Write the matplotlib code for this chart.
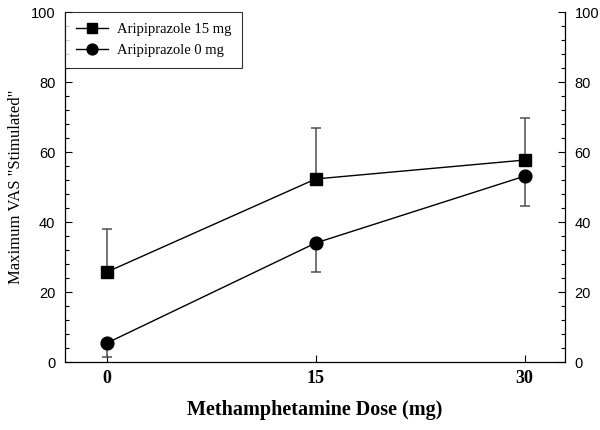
import matplotlib
matplotlib.use("Agg")
import matplotlib.pyplot as plt
from matplotlib.ticker import MultipleLocator

dose = [0, 15, 30]
ari15 = [25.7, 52.3, 57.7]
ari15_err_up = [12.3, 14.5, 12.1]
ari0 = [5.4, 34.0, 53.1]
ari0_err_down = [3.9, 8.4, 8.5]
xticks = [0, 15, 30]
yticks = [0, 20, 40, 60, 80, 100]

fig = plt.figure(figsize=(6.0, 4.3), dpi=100)
ax = fig.add_axes([65/600, 1-362/430, 500/600, 350/430])

ecol = "#505050"
ax.errorbar(dose, ari15, yerr=[[0, 0, 0], ari15_err_up], fmt="none",
            ecolor=ecol, elinewidth=1.1, capsize=3.3, capthick=1.1, zorder=2)
ax.errorbar(dose, ari0, yerr=[ari0_err_down, [0, 0, 0]], fmt="none",
            ecolor=ecol, elinewidth=1.1, capsize=3.3, capthick=1.1, zorder=2)
ax.plot(dose, ari15, color="black", lw=1, marker="s", markersize=8.6,
        label="Aripiprazole 15 mg", zorder=3)
ax.plot(dose, ari0, color="black", lw=1, marker="o", markersize=9.2,
        label="Aripiprazole 0 mg", zorder=3)

ax.set_xlim(-3.0, 32.9)
ax.set_ylim(0, 100)
ax.set_xticks(xticks)
ax.set_xticklabels([str(t) for t in xticks], family="Liberation Serif",
                   fontweight="bold", fontsize=13)
ax.set_yticks(yticks)
ax.set_yticklabels([str(t) for t in yticks], family="Liberation Sans", fontsize=10.5)
ax.yaxis.set_minor_locator(MultipleLocator(4))
ax.tick_params(axis="y", which="both", direction="in", right=True, labelright=True,
               left=True, labelleft=True)
ax.tick_params(axis="y", which="major", length=5, width=0.8, pad=7)
ax.tick_params(axis="y", which="minor", length=3, width=0.8)
ax.tick_params(axis="x", direction="in", length=5, width=0.8, pad=6)
ax.spines["top"].set_visible(False)
for s in ["left", "right", "bottom"]:
    ax.spines[s].set_linewidth(0.9)

ax.set_xlabel("Methamphetamine Dose (mg)", family="Liberation Serif",
              fontweight="bold", fontsize=14.5)
ax.xaxis.set_label_coords(0.5, (362 - 400) / 350)
ax.set_ylabel('Maximum VAS "Stimulated"', family="Liberation Serif", fontsize=12)
ax.yaxis.set_label_coords((24 - 65) / 500, 0.5)

leg = ax.legend(loc="upper left", bbox_to_anchor=(0, 1), borderaxespad=0,
                prop={"family": "Liberation Serif", "size": 10.5},
                frameon=True, fancybox=False, edgecolor="black",
                handlelength=2.2, handletextpad=0.6, borderpad=0.75,
                labelspacing=0.55, markerscale=0.85)
leg.get_frame().set_linewidth(0.8)

fig.savefig("out.png", dpi=100)
